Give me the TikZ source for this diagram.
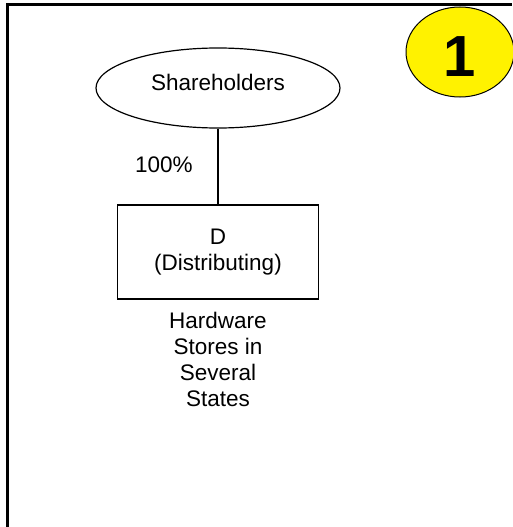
\documentclass[tikz,border=0pt]{standalone}
\usepackage{fontspec}
\setmainfont{Liberation Sans}
\usetikzlibrary{shapes.geometric}
\tikzset{
  txt/.style={font=\fontsize{22.5}{26}\selectfont, inner sep=0pt},
  frameline/.style={line width=3pt},
  oval/.style={ellipse, draw, line width=1.2pt, inner sep=0pt},
  entity/.style={rectangle, draw, line width=1.6pt, align=center, inner sep=0pt},
  badge/.style={ellipse, draw, line width=1pt, fill=yellow, inner sep=0pt,
    font=\fontsize{58}{58}\selectfont\bfseries},
}
\begin{document}
\begin{tikzpicture}[x=1pt, y=-1pt]
  \useasboundingbox (0,0) rectangle (512,527);
  % page frame
  \draw[frameline] (7.5,527) -- (7.5,4.5) -- (512,4.5);
  % step number badge
  \node[badge, minimum width=108pt, minimum height=90pt, text height=49.5pt, text depth=0pt] (num) at (460,52) {1};
  % ownership chart
  \node[oval, txt, minimum width=244pt, minimum height=80pt, text height=16pt, text depth=12pt] (sh) at (218,88) {Shareholders};
  \node[entity, txt, minimum width=201pt, minimum height=94pt] (d) at (218,252) {D\\(Distributing)};
  \draw[line width=1.2pt] (sh.south) -- (d.north);
  \node[txt, anchor=base west] (pct) at (135,172) {100\%};
  \node[txt, align=center, anchor=north] (biz) at (218,312) {Hardware\\Stores in\\Several\\States};
\end{tikzpicture}
\end{document}
